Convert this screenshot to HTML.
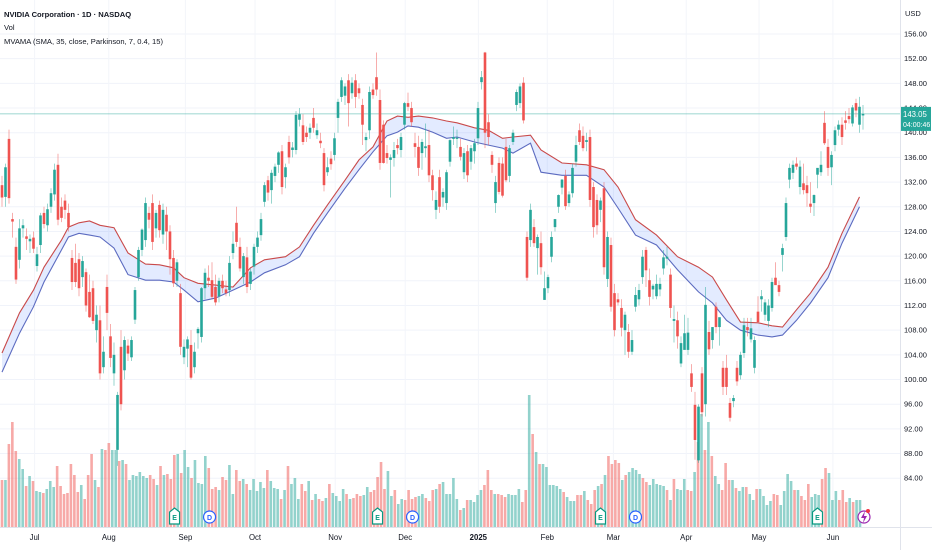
<!DOCTYPE html>
<html><head><meta charset="utf-8">
<style>
html,body{margin:0;padding:0;background:#fff;}
body{width:932px;height:550px;overflow:hidden;font-family:"Liberation Sans",sans-serif;}
svg text{font-family:"Liberation Sans",sans-serif;}
</style></head>
<body>
<svg id="chart" width="932" height="550" viewBox="0 0 932 550" xmlns="http://www.w3.org/2000/svg">
  <rect x="0" y="0" width="932" height="550" fill="#ffffff"/>
  <g id="grid"></g>
  <g id="vols"></g>
  <g id="band"></g>
  <g id="candles"></g>
  <g id="axes"></g>
  <g id="legend">
    <text x="4" y="17" font-size="7.6" font-weight="bold" fill="#131722">NVIDIA Corporation · 1D · NASDAQ</text>
    <text x="4" y="30" font-size="7.6" fill="#131722">Vol</text>
    <text x="4" y="44" font-size="7.6" fill="#131722">MVAMA (SMA, 35, close, Parkinson, 7, 0.4, 15)</text>
  </g>
</svg>
<script>
const opens=[131.5,129.6,139,126,121.5,119.4,124.5,123.2,122.4,123,118.4,121.8,127,125,128,130,134.8,128,129,127,119.7,118.9,119.5,116.6,117.4,114.2,114.8,108,109.6,102,115,107,101,88.6,105.3,101.5,105.5,103.6,109.7,116.6,121,122.6,127,128.6,124.5,128.3,123.5,126.7,124,119.7,116,114,103.6,105,105.6,102,107.5,106.9,114.8,116.5,116.1,115,113.5,116,114.6,114.5,120.5,125.4,121.5,116.6,119.8,115.5,118.3,121.5,123.4,128.8,132.3,130.7,133,134.8,137,132.8,138.5,137.2,137.2,142.1,141.2,140,140,142.4,139.6,138.7,136.7,133.6,135.8,136.4,142.4,145.8,146,148.5,146.4,148.5,147.2,144.5,138.8,140.4,147,149,145.3,141.3,136.7,135.6,135.9,138,137.2,141.3,144.8,144,138.3,137.7,136.7,137.5,138,133.1,127.5,132.8,129.5,128.6,135.3,139,139,137.7,133.6,137,135.3,137,139.1,148.2,153,141.7,136.4,128.6,135.1,135,137.7,133,138.5,144.5,144.8,148.1,123.1,122.6,124.7,121.3,122.1,112.9,114.8,119.9,124.7,128,131.1,133,128.6,130.2,135.3,140.4,139.5,138.5,139.3,131.2,129.1,127.5,131,116.3,121.8,114,113,111.6,108,107.7,104.5,111.8,113,116.6,121,116.1,114.6,113.5,114.6,118,119.6,117,109.5,109.6,102.6,104.8,104.8,101,95.9,86.9,101,96,107.7,106.4,111.8,108.5,101.9,101.9,96.2,96.5,101.9,100.7,104.3,108.5,106.5,101.9,111,113,110.5,109.5,111.6,116.5,115.3,120.2,123.1,132.4,133.5,135,131.2,131.8,131.5,128.5,128.6,133.2,133.6,141.6,137.7,134.4,138,140.5,141.3,142,142.7,141.5,144.8,141.3,142.8];
const highs=[133,135,140.5,127,123,126,126,124.5,123.5,124,121.5,127,128,128.5,131,135,136.6,129.5,130,128.5,121,122,120.5,120,118,117,116,112,112,107,117,109,106,98,108,107,106.5,107,115,121.5,124.5,129.5,128,130,127.5,129,128.5,128,125,121,119.5,115.5,106.5,107,108,106,108.5,115,118,118.5,119,117,116.5,117,116,120,124,128,123,120.5,121.5,118,122,124,127,132,133,134,135,137,138,135,139.5,138.5,143.5,144,143,141,141.5,144,141.5,140,137.5,136,137,140,145.5,149,148,149.5,149,149.5,148,145.5,140,147.5,148,153,147,142,138,136.5,138.5,139,140,145,146.5,145,140,139.5,139,141.5,140.5,134,130.5,134,131,134,139,141,140.5,139,137.5,138,138,139,145,150,153.1,143,137,133,136,136,139,138,140.5,147,148,149,124,128.5,126,123.5,124,117.5,117,124,126,130,132.5,134,130.5,135,139.5,141.5,141,140,140.5,132,130,129.5,132,124,123,115.5,114,113,111,109,108,115,115.5,121,121.5,118,115.5,117,116.5,121,121.5,118,112,111,107,110.5,110,102.5,98,96,102,115,109.5,108.5,112.5,110,103,104,97,97.5,103,104.5,110,110,110,107,113.5,114.5,113,113,116.5,119,116,122,129.5,135,135.5,136,135.5,135,133,132,130,134,137,143.5,139,137,141,142,142.5,143.5,144,144.5,145.5,145.8,144.5];
const lows=[128,128,128.5,123,115.5,118,123,121,120.5,120.5,117.5,120.5,124.5,124,127,129,125,125.5,126,124,114.5,115,113.5,115,111,110,109,106,100,101,108,102,99,86,95,100,103,103,109,116,120,121.5,124.5,121,123,123,122,121,117,115,115,104,102.5,102,100,101,105,106,113,115,113,112,112.5,114,113.5,113.5,119.5,121.5,117.5,115.5,114,114.5,117,120.5,122.5,128,129,128.5,132,133.5,130,131,135,136,136.5,141,138,138.5,139,140,139,137.5,130.5,133,134,135.5,140,145,144.5,141,145.5,144,145.5,138,137,139,145.5,146,134,135,135,129.5,134.5,136.5,136,140.5,143.5,141,136,133,134,136,132,129,126,127,128,127.5,134.5,138,137.5,135.5,132.5,132,134,135,138,147,137.5,138,133.5,127,130,129.5,132,132,138,143.5,144,141.5,116,121.5,121.5,117,117,113.5,114,119,124,127,130,127.5,128,129.5,134.5,138,137,137,128,123,123.5,125.5,117,115,111,107,112,107,104,103.5,104,111,112,115.5,115,112,113,113,113.5,117,118.5,110,106,105,102,105,104,98,87,86.5,94,94,104,105,107.5,105.5,97.5,97.5,93.2,95.5,99,100,103.5,107,106,101,109.5,111,109.5,108.5,111,116,113.5,117.5,122.5,131,132.5,134,130,130,128,127,126.5,131,133,138,133,131.5,137,139.5,138,140.5,141.5,141,142.5,140,140.5];
const closes=[129.5,134.4,129.4,125.6,116.2,124.5,125,122.8,122.8,121.2,120.3,126.6,125.2,127.6,130.2,134,125.9,126.2,127.5,124.7,115.8,115.8,114.8,119.2,112,110.1,109.5,110.5,101,104.5,110.8,103.5,104,97.5,96,106.4,104.2,106.4,114.5,121,124.3,128.6,125.9,122.3,127,124.2,127.5,124,119.5,115.6,119,105.3,105.3,106.5,100.3,104.5,108.2,114.8,117.3,116,113.4,112.5,116,114.8,114,118.9,122,122.3,118,120,115,117.5,121.5,123,126,131.5,130.3,133.5,134.5,136.8,131.2,134.4,136,137.6,142.9,143,138.5,139.3,140.8,140.8,140.4,138.3,131.5,134.4,134.9,139.1,145,148.5,147.5,144.8,148.1,145.8,146.4,141.3,139.3,146.6,146.1,147,135.1,135.1,135.9,136,137.2,137.5,139.3,144.8,144.2,141.7,137.7,134.3,138.5,137.8,133.1,130.7,129.1,128,130.4,133.6,138.8,139.3,139.2,136.1,136.7,133.1,137.5,138.3,144,149,140,139.3,134.8,132,130.4,129.8,132.3,137.5,140,146.6,147.5,142,116.5,127.5,122.1,123.1,118.2,114.8,116.6,123.1,126,129.9,132.4,128.1,130,134.3,138,138.5,137.5,138.8,129.1,124.7,125,129,118.2,123.1,111.8,108,112.5,108.4,110.5,104.5,106.4,113.7,114.5,119.9,117.7,113.4,115.2,115.5,115.5,119.8,119.9,111.6,109.8,107,105.9,107.5,107.6,98.8,90.2,95.6,94.7,112.1,104.9,108.5,108.5,110.1,98.8,98.8,93.8,97,99.7,104,108.8,108,108.3,106.4,109.3,113.5,112.5,112,115.8,115.3,114.2,121.3,128.6,134.3,134.8,134.5,134.5,130.7,130.2,128,129.9,134.3,134.8,138.3,134.3,136.4,140.4,141.3,139.3,141.6,142.2,144.1,143.6,144.2,143.05];
const volumes=[47,47,83,105,76,68,58,41,51,46,36,35,34,38,46,40,61,41,33,34,63,52,35,42,28,52,73,47,40,78,77,84,77,77,66,67,63,47,52,51,55,51,49,52,48,42,61,52,53,48,72,73,54,77,60,49,67,44,43,71,59,38,40,37,50,47,62,33,57,46,48,43,37,48,36,45,39,57,46,39,38,28,37,61,43,49,28,43,36,46,27,33,28,26,29,43,34,31,26,38,33,28,29,33,31,32,40,35,37,50,65,38,56,31,37,23,28,27,37,28,30,31,33,29,26,37,38,43,45,33,
33,49,28,17,19,27,27,25,32,37,42,57,37,33,33,32,30,33,32,32,38,25,37,132,93,75,63,63,60,42,42,41,38,35,30,26,26,32,32,36,27,23,37,41,43,52,71,63,67,64,47,52,55,59,57,53,49,45,42,48,43,42,41,37,27,48,38,37,48,37,36,55,85,113,77,105,71,51,43,37,64,47,47,39,36,40,40,33,27,38,38,31,22,26,33,32,22,36,53,46,37,37,31,27,43,30,33,32,48,59,54,27,36,27,37,25,29,25,27,27];
const bandIdx=[0,5,9,12,17,19,22,25,28,32,36,41,45,49,52,56,61,66,71,75,81,85,89,93,98,102,106,110,113,116,119,123,127,130,135,139,143,146,151,154,160,167,172,176,181,187,193,199,203,207,211,216,220,223,227,231,236,240,245];
const bandUpper=[104.3,110.8,114.5,118.2,122.6,124.7,125.4,125.7,125,124.6,120.5,118.7,118.6,118.1,116.5,115.6,115.3,115,118.1,119.4,119.9,121.5,125,128.3,132.3,135.6,137.7,141.9,142.7,142.5,142.7,142.4,141.9,141.6,140.8,140.4,139.1,139.3,139.6,137.2,135.1,134.8,134,131.2,125.9,123.4,119.9,118.2,116.6,112.9,109.3,109.2,108.7,108.5,111.3,114,118.2,123.7,129.6];
const bandLower=[101.2,107.5,111.8,115.8,121,123.1,123.7,123.4,123.1,121.3,117,116.1,116.1,115.8,114.5,112.6,113.2,114.5,115.8,117.3,118.6,119.9,123.7,127,131,134,136.9,139.5,140.1,141.1,140.9,140.1,139.1,139.3,138.5,138,137.5,136.7,138.3,133.6,133.1,133.1,131.2,127.8,123.4,121.8,117.8,114.2,112.4,109.6,108,107.2,106.9,107.2,109.6,112.4,116.5,122.1,128];
const priceTicks=[156,152,148,144,140,136,132,128,124,120,116,112,108,104,100,96,92,88,84];
const monthLabels=["Jul","Aug","Sep","Oct","Nov","Dec","2025","Feb","Mar","Apr","May","Jun"];
const monthIdx=[9.3,30.5,52.4,72.3,95.2,115.2,136.1,155.8,174.7,195.5,216.3,237.4];
const earningsIdx=[49.3,107.3,171,233];
const dividendIdx=[59.3,117.3,181];
const lastPrice=143.05;
const lastTimer="04:00:46";

const NS="http://www.w3.org/2000/svg";
const PLOT_R=900, AXIS_Y=527;
const n=closes.length;
function xAt(i){return 2+i*(861/(n-1));}
function yP(p){return 34+(156-p)*6.17;}
function xVol(i){return 2+i*(858/(volumes.length-1));}
function yV(v){return AXIS_Y-v;}
function mk(tag,attrs,parent){const e=document.createElementNS(NS,tag);for(const k in attrs)e.setAttribute(k,attrs[k]);parent.appendChild(e);return e;}
const G=id=>document.getElementById(id);

const grid=G('grid');
priceTicks.forEach(t=>{
  const l=mk('line',{x1:0,x2:PLOT_R,y1:yP(t),y2:yP(t),stroke:'#f0f3fa','stroke-width':1},grid);
  
  
});
monthIdx.forEach(m=>{
  const l=mk('line',{x1:xAt(m),x2:xAt(m),y1:0,y2:AXIS_Y,stroke:'#f3f5fa','stroke-width':1},grid);
  
  
});

const vg=G('vols');
volumes.forEach((v,i)=>{
  const ci=Math.min(n-1,Math.round(i*(n-1)/(volumes.length-1)));
  const up=closes[ci]>=opens[ci];
  const r=mk('rect',{x:xVol(i)-1.3,y:yV(v),width:2.6,height:v,fill:up?'rgba(38,166,154,0.5)':'rgba(239,83,80,0.5)'},vg);
  
  
});

const bg=G('band');
let up=bandIdx.map((b,k)=>xAt(b).toFixed(1)+','+yP(bandUpper[k]).toFixed(1));
let lo=bandIdx.map((b,k)=>xAt(b).toFixed(1)+','+yP(bandLower[k]).toFixed(1));
const fill=mk('polygon',{points:up.concat(lo.slice().reverse()).join(' '),fill:'rgba(41,98,255,0.13)'},bg);


const ul=mk('polyline',{points:up.join(' '),fill:'none',stroke:'#c94a4a','stroke-width':1.1},bg);


const ll=mk('polyline',{points:lo.join(' '),fill:'none',stroke:'#5c6bc0','stroke-width':1.1},bg);



const pl=mk('line',{x1:0,x2:PLOT_R,y1:yP(lastPrice),y2:yP(lastPrice),stroke:'#26a69a','stroke-width':0.8,'stroke-opacity':0.6},bg);



const cg=G('candles');
closes.forEach((c,i)=>{
  const o=opens[i],h=highs[i],l=lows[i],isUp=c>=o;
  const col=isUp?'#26a69a':'#ef5350';
  const x=xAt(i);
  const g=mk('g',{},cg);
  
  
  mk('line',{x1:x,x2:x,y1:yP(h),y2:yP(l),stroke:col,'stroke-width':0.8,'stroke-opacity':0.6},g);
  const top=yP(Math.max(o,c)),bot=yP(Math.min(o,c));
  mk('rect',{x:x-1.3,y:top,width:2.6,height:Math.max(1,bot-top),fill:col},g);
});

const ax=G('axes');
mk('rect',{x:PLOT_R,y:0,width:32,height:550,fill:'#ffffff'},ax);
mk('line',{x1:PLOT_R+0.5,x2:PLOT_R+0.5,y1:0,y2:550,stroke:'#e0e3eb'},ax);
mk('line',{x1:0,x2:932,y1:AXIS_Y+0.5,y2:AXIS_Y+0.5,stroke:'#e0e3eb'},ax);
const usd=mk('text',{x:905,y:16,'font-size':7.5,fill:'#131722'},ax);
usd.textContent='USD';


priceTicks.forEach(t=>{
  const tx=mk('text',{x:904,y:yP(t)+2.5,'font-size':7.5,fill:'#131722'},ax);
  tx.textContent=t.toFixed(2);
  
  
});
monthLabels.forEach((m,k)=>{
  const tx=mk('text',{x:xAt(monthIdx[k]),y:540,'font-size':7.8,fill:'#131722','text-anchor':'middle','font-weight':m==='2025'?'bold':'normal'},ax);
  tx.textContent=m;
  
  
});
const yb=yP(lastPrice);
const badge=mk('g',{},ax);


mk('rect',{x:PLOT_R+1,y:yb-7,width:30,height:24,fill:'#26a69a'},badge);
const bt=mk('text',{x:PLOT_R+3,y:yb+3,'font-size':7.8,fill:'#fff'},badge);bt.textContent=lastPrice.toFixed(2);
const bt2=mk('text',{x:PLOT_R+3,y:yb+13,'font-size':7,fill:'#fff'},badge);bt2.textContent=lastTimer;

earningsIdx.forEach(e=>{
  const x=xAt(e);
  const g=mk('g',{},ax);
  
  
  mk('path',{d:`M${x-5},${524} L${x-5},${512} L${x},${508} L${x+5},${512} L${x+5},${524} Z`,fill:'#fff',stroke:'#089981','stroke-width':1.2},g);
  const t=mk('text',{x:x,y:520,'font-size':7,fill:'#089981','text-anchor':'middle','font-weight':'bold'},g);t.textContent='E';
});
dividendIdx.forEach(d=>{
  const x=xAt(d);
  const g=mk('g',{},ax);
  
  
  mk('circle',{cx:x,cy:517,r:6,fill:'#fff',stroke:'#2962ff','stroke-width':1.2},g);
  const t=mk('text',{x:x,y:520,'font-size':7,fill:'#2962ff','text-anchor':'middle','font-weight':'bold'},g);t.textContent='D';
});
const lg=mk('g',{},ax);


mk('circle',{cx:864,cy:517,r:6,fill:'#fff',stroke:'#9c27b0','stroke-width':1.2},lg);
mk('path',{d:'M865,511 L861,518 L864,518 L863,523 L867,516 L864,516 Z',fill:'#9c27b0'},lg);
mk('circle',{cx:868,cy:511,r:2,fill:'#f23645'},lg);
</script>
</body></html>
